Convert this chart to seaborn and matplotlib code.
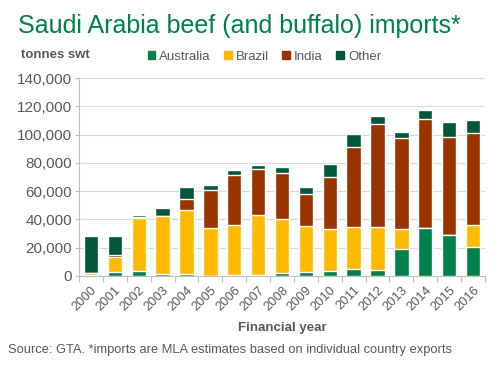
import numpy as np
import pandas as pd
import seaborn as sns
import matplotlib.pyplot as plt
from matplotlib.ticker import FuncFormatter, FixedLocator
from matplotlib.patches import Patch

# values (tonnes swt)
years = [str(y) for y in range(2000, 2017)]
australia = [700, 2600, 3800, 1600, 1200, 300, 900, 900, 1900, 3100, 3300,
             5200, 4200, 18900, 33800, 29000, 20800]
brazil = [1400, 10900, 37500, 40900, 45500, 33900, 35500, 42500, 38700, 32300, 29800,
          29700, 30300, 14400, 0, 0, 14900]
india = [200, 1400, 700, 200, 7600, 26700, 34700, 32100, 32100, 22900, 36600,
         56000, 72700, 64000, 77400, 69000, 65600]
other = [26000, 13400, 1400, 5200, 8700, 3800, 4000, 2700, 4300, 4700, 9600,
         9500, 6100, 4700, 6400, 10600, 9200]

origins = ['Australia', 'Brazil', 'India', 'Other']
colors = {'Australia': '#00804A', 'Brazil': '#FFBA00', 'India': '#993300', 'Other': '#00573A'}
grey = '#595959'

df = pd.DataFrame({'year': years, 'Australia': australia, 'Brazil': brazil,
                   'India': india, 'Other': other})
# cumulative tops, so layers can be drawn back to front
cum = df[origins].cumsum(axis=1)
cum['year'] = df['year']

sns.set_theme(style='white')
plt.rcParams['font.family'] = ['Liberation Sans', 'DejaVu Sans']

fig = plt.figure(figsize=(5, 3.65), dpi=100)
ax = fig.add_axes([0.158, 0.244, 0.812, 0.542])

for name in reversed(origins):
    sns.barplot(data=cum, x='year', y=name, order=years, color=colors[name],
                width=0.6, saturation=1, errorbar=None, ax=ax, zorder=2)

ax.set_ylim(0, 140000)
ax.set_xlim(-0.5, len(years) - 0.5)
ax.set_yticks(np.arange(0, 140001, 20000))
ax.yaxis.set_major_formatter(FuncFormatter(lambda v, p: f'{int(v):,}'))
ax.grid(axis='y', color='#D9D9D9', linewidth=0.8, zorder=0)
ax.set_axisbelow(True)

for s in ['top', 'right']:
    ax.spines[s].set_visible(False)
for s in ['left', 'bottom']:
    ax.spines[s].set_color('#BFBFBF')
    ax.spines[s].set_linewidth(0.8)

ax.tick_params(axis='y', labelsize=11, colors=grey, length=3, width=0.8,
               color='#BFBFBF', left=True, pad=2)
ax.tick_params(axis='x', which='major', length=0, labelsize=9.3, colors=grey, pad=6)
ax.xaxis.set_minor_locator(FixedLocator(np.arange(-0.5, len(years), 1)))
ax.tick_params(axis='x', which='minor', length=4, width=0.8, color='#BFBFBF', bottom=True)
plt.setp(ax.get_xticklabels(), rotation=45, ha='right', rotation_mode='anchor')
ax.set_xlabel('')
ax.set_ylabel('')

fig.text(0.036, 0.963, 'Saudi Arabia beef (and buffalo) imports*', color='#00804A',
         fontsize=18, va='top', ha='left')
fig.text(0.042, 0.85, 'tonnes swt', color=grey, fontsize=9.5, fontweight='bold',
         va='center', ha='left')
fig.text(0.564, 0.1, 'Financial year', color=grey, fontsize=9.5, fontweight='bold',
         va='center', ha='center')
fig.text(0.016, 0.041, 'Source: GTA. *imports are MLA estimates based on individual country exports',
         color=grey, fontsize=9.3, va='center', ha='left')

handles = [Patch(color=colors[n], label=n) for n in origins]
leg = fig.legend(handles=handles, loc='center left', bbox_to_anchor=(0.295, 0.845),
                 ncol=4, frameon=False, fontsize=9.5, handlelength=0.6, handleheight=0.6,
                 handletextpad=0.3, columnspacing=1.0, borderaxespad=0, borderpad=0)
for t in leg.get_texts():
    t.set_color(grey)

fig.savefig('out.png', dpi=100)
